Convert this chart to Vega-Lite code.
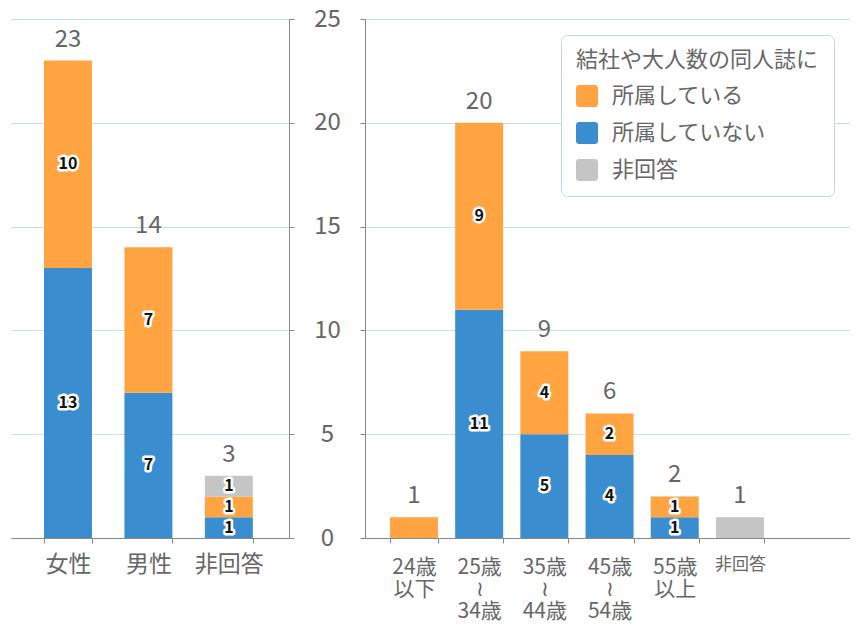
{
  "$schema": "https://vega.github.io/schema/vega-lite/v6.json",
  "background": "white",
  "padding": {"left": 11, "top": 7, "right": 0, "bottom": 0},
  "datasets": {
    "gender": [
      {"cat": "女性", "group": "所属していない", "n": 13},
      {"cat": "女性", "group": "所属している", "n": 10},
      {"cat": "男性", "group": "所属していない", "n": 7},
      {"cat": "男性", "group": "所属している", "n": 7},
      {"cat": "非回答", "group": "所属していない", "n": 1},
      {"cat": "非回答", "group": "所属している", "n": 1},
      {"cat": "非回答", "group": "非回答", "n": 1}
    ],
    "age": [
      {"cat": "24歳\n以下", "group": "所属している", "n": 1},
      {"cat": "25歳\n≀\n34歳", "group": "所属していない", "n": 11},
      {"cat": "25歳\n≀\n34歳", "group": "所属している", "n": 9},
      {"cat": "35歳\n≀\n44歳", "group": "所属していない", "n": 5},
      {"cat": "35歳\n≀\n44歳", "group": "所属している", "n": 4},
      {"cat": "45歳\n≀\n54歳", "group": "所属していない", "n": 4},
      {"cat": "45歳\n≀\n54歳", "group": "所属している", "n": 2},
      {"cat": "55歳\n以上", "group": "所属していない", "n": 1},
      {"cat": "55歳\n以上", "group": "所属している", "n": 1},
      {"cat": "非回答", "group": "非回答", "n": 1}
    ]
  },
  "config": {
    "font": "Noto Sans CJK JP",
    "view": {"stroke": null},
    "axis": {
      "title": null,
      "domainColor": "#888888",
      "tickColor": "#888888",
      "gridColor": "#c6dfe8",
      "labelColor": "#666666"
    },
    "legend": {
      "fillColor": "white",
      "strokeColor": "#bcd8e3",
      "cornerRadius": 6,
      "padding": 15,
      "titleFontSize": 22,
      "titleFontWeight": "normal",
      "titleColor": "#666666",
      "titlePadding": 13,
      "titleLimit": 400,
      "labelFontSize": 22,
      "labelColor": "#666666",
      "labelLimit": 400,
      "labelOffset": 14,
      "rowPadding": 15,
      "symbolSize": 484,
      "symbolStrokeWidth": 0,
      "symbolOpacity": 1,
      "symbolType": "M -0.7 -1 H 0.7 Q 1 -1 1 -0.7 V 0.7 Q 1 1 0.7 1 H -0.7 Q -1 1 -1 0.7 V -0.7 Q -1 -1 -0.7 -1 Z"
    }
  },
  "spacing": 18,
  "resolve": {"scale": {"y": "independent", "color": "independent"}},
  "hconcat": [
    {
      "width": 278,
      "height": 519,
      "data": {"name": "gender"},
      "encoding": {
        "x": {
          "field": "cat",
          "type": "nominal",
          "scale": {"domain": ["女性", "男性", "非回答"], "paddingInner": 0.404, "paddingOuter": 0.43, "align": 0.477},
          "axis": {"labelAngle": 0, "labelFontSize": 23, "labelPadding": 10, "tickSize": 5, "tickBand": "extent", "grid": false}
        }
      },
      "layer": [
        {
          "mark": {"type": "bar"},
          "encoding": {
            "y": {
              "field": "n",
              "type": "quantitative",
              "scale": {"domain": [0, 25], "nice": false},
              "axis": {"orient": "right", "labels": false, "tickSize": 5, "values": [0, 5, 10, 15, 20, 25], "grid": true}
            },
            "color": {
              "field": "group",
              "type": "nominal",
              "scale": {"domain": ["所属している", "所属していない", "非回答"], "range": ["#ffa441", "#3a8ed0", "#c5c5c5"]},
              "legend": null
            },
            "order": {"field": "group", "sort": "ascending"}
          }
        },
        {
          "transform": [{"aggregate": [{"op": "sum", "field": "n", "as": "total"}], "groupby": ["cat"]}],
          "mark": {"type": "text", "fontSize": 24, "color": "#666666", "baseline": "alphabetic", "dy": -14},
          "encoding": {
            "y": {"field": "total", "type": "quantitative"},
            "text": {"field": "total", "type": "quantitative"}
          }
        },
        {
          "transform": [
            {"joinaggregate": [{"op": "sum", "field": "n", "as": "total"}], "groupby": ["cat"]},
            {"stack": "n", "groupby": ["cat"], "sort": [{"field": "group", "order": "ascending"}], "as": ["s0", "s1"]},
            {"filter": "datum.n < datum.total"},
            {"calculate": "(datum.s0 + datum.s1) / 2", "as": "mid"}
          ],
          "mark": {"type": "text", "fontSize": 16, "fontWeight": "bold", "fill": "white", "stroke": "white", "strokeWidth": 5, "strokeJoin": "round", "baseline": "middle"},
          "encoding": {
            "y": {"field": "mid", "type": "quantitative"},
            "text": {"field": "n", "type": "quantitative"}
          }
        },
        {
          "transform": [
            {"joinaggregate": [{"op": "sum", "field": "n", "as": "total"}], "groupby": ["cat"]},
            {"stack": "n", "groupby": ["cat"], "sort": [{"field": "group", "order": "ascending"}], "as": ["s0", "s1"]},
            {"filter": "datum.n < datum.total"},
            {"calculate": "(datum.s0 + datum.s1) / 2", "as": "mid"}
          ],
          "mark": {"type": "text", "fontSize": 16, "fontWeight": "bold", "fill": "#111111", "baseline": "middle"},
          "encoding": {
            "y": {"field": "mid", "type": "quantitative"},
            "text": {"field": "n", "type": "quantitative"}
          }
        }
      ]
    },
    {
      "width": 485,
      "height": 519,
      "data": {"name": "age"},
      "encoding": {
        "x": {
          "field": "cat",
          "type": "nominal",
          "scale": {"domain": ["24歳\n以下", "25歳\n≀\n34歳", "35歳\n≀\n44歳", "45歳\n≀\n54歳", "55歳\n以上", "非回答"], "paddingInner": 0.264, "paddingOuter": 0.852, "align": 0.225},
          "axis": {
            "labelAngle": 0,
            "labelExpr": "split(datum.label, '\\n')",
            "labelFontSize": {"condition": {"test": "datum.value == '非回答'", "value": 17}, "value": 21},
            "labelLineHeight": 22,
            "labelPadding": 13,
            "tickSize": 5,
            "tickBand": "extent",
            "grid": false
          }
        }
      },
      "layer": [
        {
          "mark": {"type": "bar"},
          "encoding": {
            "y": {
              "field": "n",
              "type": "quantitative",
              "scale": {"domain": [0, 25], "nice": false},
              "axis": {"orient": "left", "labelAlign": "center", "labelBaseline": "middle", "labelFontSize": 24, "labelPadding": 33, "tickSize": 5, "values": [0, 5, 10, 15, 20, 25], "grid": true}
            },
            "color": {
              "field": "group",
              "type": "nominal",
              "title": "結社や大人数の同人誌に",
              "scale": {"domain": ["所属している", "所属していない", "非回答"], "range": ["#ffa441", "#3a8ed0", "#c5c5c5"]},
              "legend": {"orient": "top-right", "offset": 16}
            },
            "order": {"field": "group", "sort": "ascending"}
          }
        },
        {
          "transform": [{"aggregate": [{"op": "sum", "field": "n", "as": "total"}], "groupby": ["cat"]}],
          "mark": {"type": "text", "fontSize": 24, "color": "#666666", "baseline": "alphabetic", "dy": -14},
          "encoding": {
            "y": {"field": "total", "type": "quantitative"},
            "text": {"field": "total", "type": "quantitative"}
          }
        },
        {
          "transform": [
            {"joinaggregate": [{"op": "sum", "field": "n", "as": "total"}], "groupby": ["cat"]},
            {"stack": "n", "groupby": ["cat"], "sort": [{"field": "group", "order": "ascending"}], "as": ["s0", "s1"]},
            {"filter": "datum.n < datum.total"},
            {"calculate": "(datum.s0 + datum.s1) / 2", "as": "mid"}
          ],
          "mark": {"type": "text", "fontSize": 16, "fontWeight": "bold", "fill": "white", "stroke": "white", "strokeWidth": 5, "strokeJoin": "round", "baseline": "middle"},
          "encoding": {
            "y": {"field": "mid", "type": "quantitative"},
            "text": {"field": "n", "type": "quantitative"}
          }
        },
        {
          "transform": [
            {"joinaggregate": [{"op": "sum", "field": "n", "as": "total"}], "groupby": ["cat"]},
            {"stack": "n", "groupby": ["cat"], "sort": [{"field": "group", "order": "ascending"}], "as": ["s0", "s1"]},
            {"filter": "datum.n < datum.total"},
            {"calculate": "(datum.s0 + datum.s1) / 2", "as": "mid"}
          ],
          "mark": {"type": "text", "fontSize": 16, "fontWeight": "bold", "fill": "#111111", "baseline": "middle"},
          "encoding": {
            "y": {"field": "mid", "type": "quantitative"},
            "text": {"field": "n", "type": "quantitative"}
          }
        }
      ]
    }
  ]
}
